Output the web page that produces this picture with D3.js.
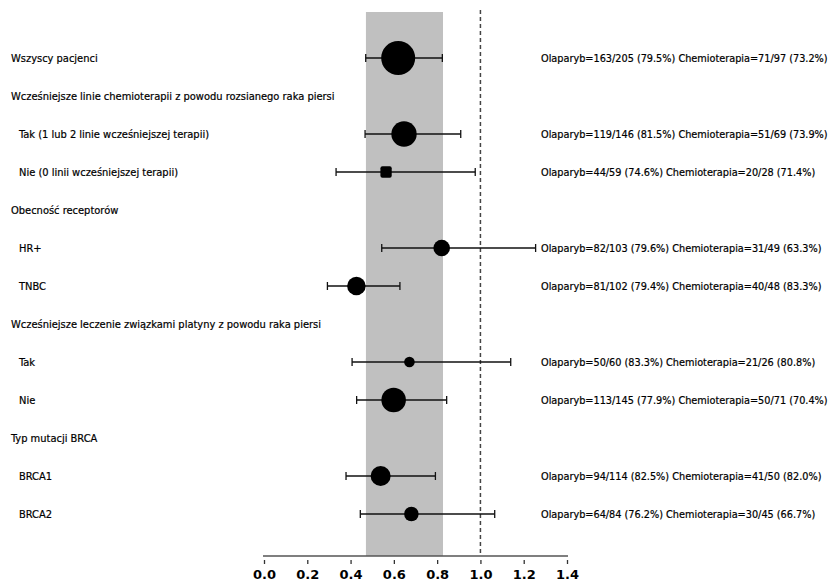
<!DOCTYPE html>
<html>
<head>
<meta charset="utf-8">
<script src="https://cdn.jsdelivr.net/npm/d3@7"></script>
<style>
  body { margin: 0; background: #fff; }
  svg { display: block; }
  .lbl { font-family: "DejaVu Sans Condensed", "DejaVu Sans", sans-serif; font-size: 11px; fill: #000; stroke: #000; stroke-width: 0.2px; }
  .right { font-size: 10.8px; }
  .tick text { font-family: "DejaVu Sans", sans-serif; font-weight: bold; font-size: 13px; }
</style>
</head>
<body>
<div id="chart"></div>
<script>
// wiersze wykresu (nagłówki nie mają wartości)
var labels = [
  "Wszyscy pacjenci",
  "Wcześniejsze linie chemioterapii z powodu rozsianego raka piersi",
  "Tak (1 lub 2 linie wcześniejszej terapii)",
  "Nie (0 linii wcześniejszej terapii)",
  "Obecność receptorów",
  "HR+",
  "TNBC",
  "Wcześniejsze leczenie związkami platyny z powodu raka piersi",
  "Tak",
  "Nie",
  "Typ mutacji BRCA",
  "BRCA1",
  "BRCA2"
];
var isSub = [0, 0, 1, 1, 0, 1, 1, 0, 1, 1, 0, 1, 1];
var est   = [0.62, null, 0.647, 0.564, null, 0.821, 0.427, null, 0.672, 0.599, null, 0.539, 0.681];
var lower = [0.47, null, 0.467, 0.333, null, 0.544, 0.293, null, 0.407, 0.428, null, 0.379, 0.445];
var upper = [0.824, null, 0.909, 0.976, null, 1.255, 0.628, null, 1.14, 0.844, null, 0.792, 1.066];
var weight = [289, null, 161, 32, null, 69, 86, null, 28, 151, null, 100, 53];
var markerType = ["circle", null, "circle", "square", null, "circle", "circle", null, "circle", "circle", null, "circle", "circle"];
var counts = [
  "Olaparyb=163/205 (79.5%) Chemioterapia=71/97 (73.2%)",
  "",
  "Olaparyb=119/146 (81.5%) Chemioterapia=51/69 (73.9%)",
  "Olaparyb=44/59 (74.6%) Chemioterapia=20/28 (71.4%)",
  "",
  "Olaparyb=82/103 (79.6%) Chemioterapia=31/49 (63.3%)",
  "Olaparyb=81/102 (79.4%) Chemioterapia=40/48 (83.3%)",
  "",
  "Olaparyb=50/60 (83.3%) Chemioterapia=21/26 (80.8%)",
  "Olaparyb=113/145 (77.9%) Chemioterapia=50/71 (70.4%)",
  "",
  "Olaparyb=94/114 (82.5%) Chemioterapia=41/50 (82.0%)",
  "Olaparyb=64/84 (76.2%) Chemioterapia=30/45 (66.7%)"
];
var band = [0.471, 0.827];   // szary pas
var refLine = 1.0;
var xTicks = [0, 0.2, 0.4, 0.6, 0.8, 1.0, 1.2, 1.4];

var W = 835, H = 582;
var svg = d3.select("#chart").append("svg").attr("width", W).attr("height", H);

var x = d3.scaleLinear().domain([0, 1.4]).range([264, 567]);
var y = d3.scalePoint().domain(d3.range(labels.length)).range([58, 514]);
var r = d3.scaleSqrt().domain([0, 289]).range([0, 17]);
var axisY = 556;

// szary pas
svg.append("rect")
  .attr("x", x(band[0])).attr("y", 12)
  .attr("width", x(band[1]) - x(band[0]))
  .attr("height", axisY - 12)
  .attr("fill", "#c0c0c0");

// linia odniesienia
svg.append("line")
  .attr("x1", x(refLine)).attr("x2", x(refLine))
  .attr("y1", 10).attr("y2", axisY)
  .attr("stroke", "#444").attr("stroke-width", 1.5)
  .attr("stroke-dasharray", "4,3");

// oś x
var axis = d3.axisBottom(x).tickValues(xTicks).tickFormat(d3.format(".1f")).tickSize(4).tickPadding(6);
var gx = svg.append("g").attr("transform", "translate(0," + (axisY + 4) + ")").call(axis);
gx.select(".domain").remove();
gx.selectAll(".tick line").attr("stroke", "#333").attr("stroke-width", 1.3);
gx.selectAll(".tick text").attr("fill", "#000");
svg.append("line")
  .attr("x1", x(0) - 1).attr("x2", x(1.4) + 1)
  .attr("y1", axisY).attr("y2", axisY)
  .attr("stroke", "#555").attr("stroke-width", 1.6);

// etykiety po lewej
svg.selectAll("text.left").data(labels).enter().append("text")
  .attr("class", "lbl left")
  .attr("x", function(d, i) { return isSub[i] ? 19 : 11; })
  .attr("y", function(d, i) { return y(i); })
  .attr("dy", "0.35em")
  .text(function(d) { return d; });

// liczebności po prawej
svg.selectAll("text.right").data(counts).enter().append("text")
  .attr("class", "lbl right")
  .attr("x", 541)
  .attr("y", function(d, i) { return y(i); })
  .attr("dy", "0.35em")
  .text(function(d) { return d; });

var rows = d3.range(labels.length).filter(function(i) { return est[i] !== null; });

var g = svg.selectAll("g.row").data(rows).enter().append("g").attr("class", "row");

g.append("line")
  .attr("x1", function(i) { return x(lower[i]); })
  .attr("x2", function(i) { return x(upper[i]); })
  .attr("y1", function(i) { return y(i); })
  .attr("y2", function(i) { return y(i); })
  .attr("stroke", "#111").attr("stroke-width", 1.3);

[lower, upper].forEach(function(arr) {
  g.append("line")
    .attr("x1", function(i) { return x(arr[i]); })
    .attr("x2", function(i) { return x(arr[i]); })
    .attr("y1", function(i) { return y(i) - 4; })
    .attr("y2", function(i) { return y(i) + 4; })
    .attr("stroke", "#111").attr("stroke-width", 1.3);
});

g.filter(function(i) { return markerType[i] === "circle"; }).append("circle")
  .attr("cx", function(i) { return x(est[i]); })
  .attr("cy", function(i) { return y(i); })
  .attr("r", function(i) { return r(weight[i]); })
  .attr("fill", "#000");

g.filter(function(i) { return markerType[i] === "square"; }).append("rect")
  .attr("x", function(i) { return x(est[i]) - r(weight[i]); })
  .attr("y", function(i) { return y(i) - r(weight[i]); })
  .attr("width", function(i) { return 2 * r(weight[i]); })
  .attr("height", function(i) { return 2 * r(weight[i]); })
  .attr("rx", 2)
  .attr("fill", "#000");
</script>
</body>
</html>
